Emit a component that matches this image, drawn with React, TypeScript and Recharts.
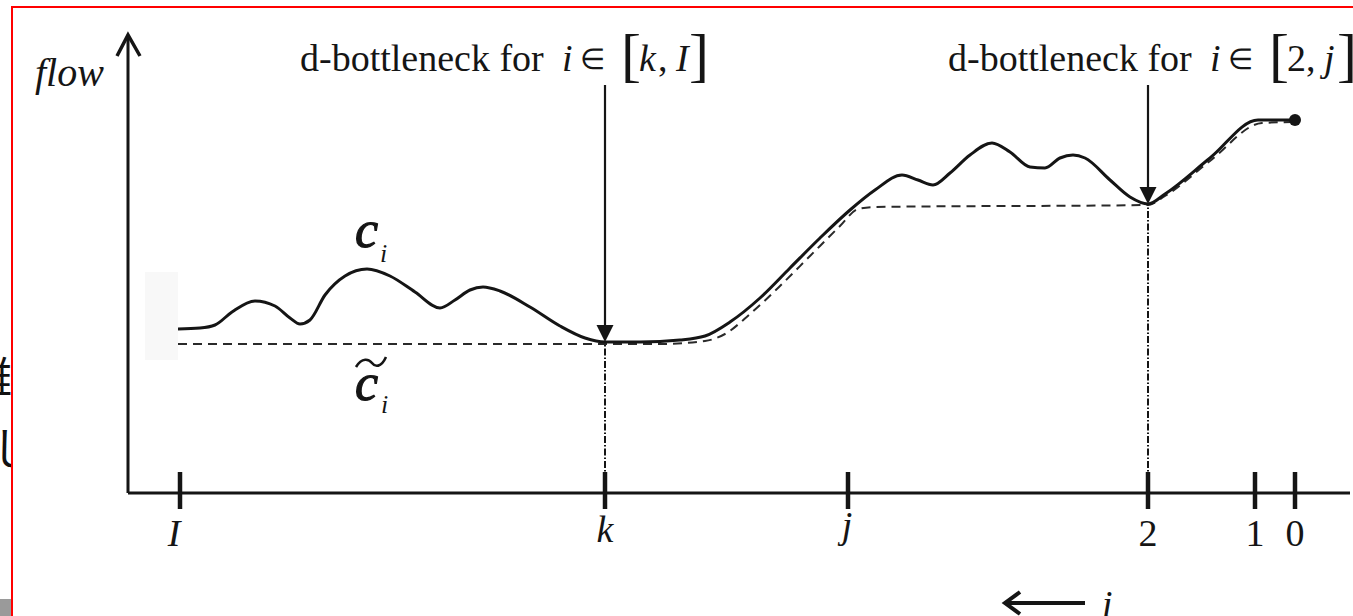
import React from 'react';
import {
  ComposedChart,
  Line,
  XAxis,
  YAxis,
  ReferenceLine,
  ReferenceDot,
  ReferenceArea,
} from 'recharts';

const SERIF = "'Liberation Serif', 'Times New Roman', Times, serif";
const INK = '#151515';

// Stage positions on the horizontal axis (the index i decreases to the right)
const stageTicks = [5.2, 47.7, 72.0, 102.0, 112.7, 116.7];
const stageLabels = ['I', 'k', 'j', '2', '1', '0'];
const stageItalic = [true, true, true, false, false, false];

// Capacity profile c_i
const capacityX = [
  5.0, 7.2, 8.7, 10.4, 12.7, 14.7, 16.2, 17.2, 18.2, 19.7, 21.7, 23.9, 26.2,
  28.7, 31.2, 32.7, 34.2, 35.5, 37.2, 40.2, 43.2, 45.7, 47.7, 51.2, 55.2, 57.7,
  60.2, 63.2, 66.2, 69.2, 72.2, 74.7, 77.4, 79.0, 80.5, 82.2, 84.2, 86.4, 88.2,
  90.2, 91.7, 93.2, 94.5, 95.7, 98.2, 100.2, 102.0, 103.7, 108.2, 113.0, 116.7,
];
const capacityY = [
  16.4, 16.5, 16.8, 18.1, 19.2, 18.7, 17.5, 16.9, 17.3, 19.8, 21.7, 22.4, 21.7,
  20.1, 18.5, 19.3, 20.3, 20.6, 20.2, 18.6, 16.7, 15.5, 15.1, 15.1, 15.3, 15.7,
  17.1, 19.5, 22.5, 25.5, 28.3, 30.3, 31.8, 31.3, 30.8, 32.0, 33.8, 35.0, 34.1,
  32.6, 32.5, 33.5, 33.8, 33.5, 31.3, 29.6, 28.9, 29.9, 33.5, 37.3, 37.3,
];

// Bottleneck envelope c~_i
const envelopeX = [
  5.0, 47.7, 53.2, 57.7, 59.7, 62.2, 65.2, 68.2, 71.2, 73.0, 74.7, 102.0,
  103.7, 108.2, 113.4, 116.7,
];
const envelopeY = [
  14.9, 14.9, 14.9, 15.2, 15.9, 17.9, 20.7, 23.7, 26.7, 28.4, 28.6, 28.8,
  29.7, 33.2, 37.0, 37.1,
];

// d-bottleneck markers: stage position, flow level, and interval bounds in the caption
const bottleneckAt = [47.7, 102.0];
const bottleneckFlow = [15.1, 28.9];
const intervalLow = ['k', '2'];
const intervalLowItalic = [true, false];
const intervalHigh = ['I', 'j'];
const captionStart = [17.2, 82.0];
const captionLevel = 42.2;
const shaftTop = 40.8;

// Terminal stage
const terminalX = 116.7;
const terminalY = 37.3;

const capacityData = capacityX.map((x, i) => ({ x, y: capacityY[i] }));
const envelopeData = envelopeX.map((x, i) => ({ x, y: envelopeY[i] }));

const StageTick = (props: any) => {
  const { x, y, payload } = props;
  const idx = stageTicks.indexOf(payload.value);
  const label = stageLabels[idx];
  const italic = stageItalic[idx];
  const dx = label === 'I' ? -6 : label === 'j' ? -1 : 0;
  const base = label === 'k' ? 49 : label === 'j' ? 45 : 53;
  return (
    <g>
      <line x1={x} x2={x} y1={y - 21} y2={y + 16} stroke={INK} strokeWidth={4.5} />
      <text
        x={x + dx}
        y={y + base}
        textAnchor="middle"
        fontFamily={SERIF}
        fontSize={38}
        fontStyle={italic ? 'italic' : 'normal'}
        fill={INK}
      >
        {label}
      </text>
    </g>
  );
};

const Caption = (props: any) => {
  const { cx, cy, idx } = props;
  const t = { fontFamily: SERIF, fill: INK };
  return (
    <g>
      <text x={cx} y={cy} fontSize={38} {...t}>d-bottleneck for</text>
      <text x={cx + 262} y={cy} fontSize={38} fontStyle="italic" {...t}>i</text>
      <text x={cx + 280} y={cy - 2} fontSize={29} {...t}>∈</text>
      <text x={cx + 321} y={cy + 4} fontSize={60} {...t}>[</text>
      <text x={cx + 339} y={cy} fontSize={38} fontStyle={intervalLowItalic[idx] ? 'italic' : 'normal'} {...t}>
        {intervalLow[idx]}
      </text>
      <text x={cx + 358} y={cy} fontSize={38} {...t}>,</text>
      <text x={cx + 376} y={cy} fontSize={38} fontStyle="italic" {...t}>{intervalHigh[idx]}</text>
      <text x={cx + 389} y={cy + 4} fontSize={60} {...t}>]</text>
    </g>
  );
};

const ArrowHead = (props: any) => {
  const { cx, cy } = props;
  return <path d={`M${cx},${cy} L${cx - 8.5},${cy - 17} L${cx + 8.5},${cy - 17} Z`} fill={INK} />;
};

const CapacityLabel = (props: any) => {
  const { cx, cy } = props;
  return (
    <g fontFamily={SERIF} fill={INK} fontStyle="italic">
      <text x={cx} y={cy} fontSize={52} stroke={INK} strokeWidth={1.2}>c</text>
      <text x={cx + 25} y={cy + 15} fontSize={26}>i</text>
    </g>
  );
};

const EnvelopeLabel = (props: any) => {
  const { cx, cy } = props;
  return (
    <g fontFamily={SERIF} fill={INK} fontStyle="italic">
      <path
        d={`M${cx + 1},${cy - 33} C${cx + 7},${cy - 43} ${cx + 14},${cy - 41} ${cx + 17},${cy - 37} S${cx + 26},${cy - 32} ${cx + 31},${cy - 43}`}
        fill="none"
        stroke={INK}
        strokeWidth={2.6}
      />
      <text x={cx} y={cy} fontSize={52} stroke={INK} strokeWidth={1.2}>c</text>
      <text x={cx + 26} y={cy + 13} fontSize={26}>i</text>
    </g>
  );
};

const FlowAxisLabel = (props: any) => {
  const vb = props.viewBox || {};
  const x = (vb.x || 0) + (vb.width || 0);
  const y = vb.y || 0;
  return (
    <g>
      <path
        d={`M${x - 11},${y + 21} L${x},${y} L${x + 12},${y + 21}`}
        fill="none"
        stroke={INK}
        strokeWidth={3.5}
      />
      <text x={x - 93} y={y + 51} fontFamily={SERIF} fontSize={40} fontStyle="italic" fill={INK}>
        flow
      </text>
    </g>
  );
};

const StageAxisLabel = (props: any) => {
  const vb = props.viewBox || {};
  const x = vb.x || 0;
  const y = vb.y || 0;
  const tipX = x + 877;
  const tipY = y + 110;
  return (
    <g>
      <path
        d={`M${tipX + 15},${tipY - 11} L${tipX},${tipY} L${tipX + 15},${tipY + 11}`}
        fill="none"
        stroke={INK}
        strokeWidth={4}
      />
      <line x1={tipX + 1} x2={tipX + 80} y1={tipY} y2={tipY} stroke={INK} strokeWidth={4} />
      <text x={tipX + 97} y={tipY + 14} fontFamily={SERIF} fontSize={38} fontStyle="italic" fill={INK}>
        i
      </text>
    </g>
  );
};

export default function App() {
  return (
    <div
      style={{
        position: 'absolute',
        left: 0,
        top: 0,
        width: 1353,
        height: 616,
        background: '#fff',
        overflow: 'hidden',
      }}
    >
      <ComposedChart
        width={1353}
        height={616}
        margin={{ top: 35, right: 3, bottom: 122, left: 127 }}
      >
        <XAxis
          type="number"
          dataKey="x"
          domain={[0, 122.2]}
          allowDataOverflow
          ticks={stageTicks}
          interval={0}
          tick={<StageTick />}
          tickLine={false}
          tickSize={0}
          tickMargin={0}
          height={1}
          axisLine={{ stroke: INK, strokeWidth: 3 }}
          label={{ content: <StageAxisLabel /> }}
        />
        <YAxis
          type="number"
          domain={[0, 45.8]}
          allowDataOverflow
          width={1}
          tick={false}
          tickLine={false}
          axisLine={{ stroke: INK, strokeWidth: 3 }}
          label={{ content: <FlowAxisLabel /> }}
        />

        <ReferenceArea x1={1.7} x2={5.0} y1={13.3} y2={22.1} fill="#f8f8f8" fillOpacity={1} stroke="none" />

        {bottleneckAt.map((bx, i) => (
          <ReferenceLine
            key={`drop-${i}`}
            segment={[
              { x: bx, y: 0 },
              { x: bx, y: bottleneckFlow[i] },
            ]}
            stroke={INK}
            strokeWidth={2}
            strokeDasharray="7 2 1.5 2"
          />
        ))}

        <Line
          data={envelopeData}
          dataKey="y"
          type="monotone"
          stroke="#2a2a2a"
          strokeWidth={2}
          strokeDasharray="9 6"
          dot={false}
          activeDot={false}
          isAnimationActive={false}
        />
        <Line
          data={capacityData}
          dataKey="y"
          type="monotone"
          stroke={INK}
          strokeWidth={3}
          dot={false}
          activeDot={false}
          isAnimationActive={false}
        />

        {bottleneckAt.map((bx, i) => (
          <ReferenceLine
            key={`shaft-${i}`}
            segment={[
              { x: bx, y: shaftTop },
              { x: bx, y: bottleneckFlow[i] + 1.6 },
            ]}
            stroke={INK}
            strokeWidth={2.2}
          />
        ))}
        {bottleneckAt.map((bx, i) => (
          <ReferenceDot
            key={`head-${i}`}
            x={bx}
            y={bottleneckFlow[i]}
            r={1}
            shape={(p: any) => <ArrowHead {...p} />}
          />
        ))}
        {captionStart.map((cx0, i) => (
          <ReferenceDot
            key={`cap-${i}`}
            x={cx0}
            y={captionLevel}
            r={1}
            ifOverflow="visible"
            shape={(p: any) => <Caption {...p} idx={i} />}
          />
        ))}

        <ReferenceDot x={22.7} y={24.6} r={1} shape={(p: any) => <CapacityLabel {...p} />} />
        <ReferenceDot x={22.7} y={9.3} r={1} shape={(p: any) => <EnvelopeLabel {...p} />} />

        <ReferenceDot x={terminalX} y={terminalY} r={6} fill={INK} stroke="none" />
      </ComposedChart>

      {/* page edge fragments */}
      <div style={{ position: 'absolute', left: 0, top: 0, width: 11, height: 616, overflow: 'hidden' }}>
        <span
          style={{
            position: 'absolute',
            left: -32,
            top: 353,
            fontSize: 44,
            lineHeight: 1,
            fontFamily: "'Noto Sans CJK JP'",
            color: '#111',
          }}
        >
          難
        </span>
        <span
          style={{
            position: 'absolute',
            left: -8,
            top: 424,
            fontSize: 44,
            lineHeight: 1,
            fontFamily: "'Noto Sans CJK JP'",
            color: '#111',
          }}
        >
          し
        </span>
        <div style={{ position: 'absolute', left: 0, top: 599, width: 11, height: 17, background: '#9a9a9a' }} />
      </div>

      {/* frame */}
      <div style={{ position: 'absolute', left: 11, top: 6, width: 1342, height: 2, background: '#ff0000' }} />
      <div style={{ position: 'absolute', left: 11, top: 6, width: 2, height: 610, background: '#ff0000' }} />
    </div>
  );
}
